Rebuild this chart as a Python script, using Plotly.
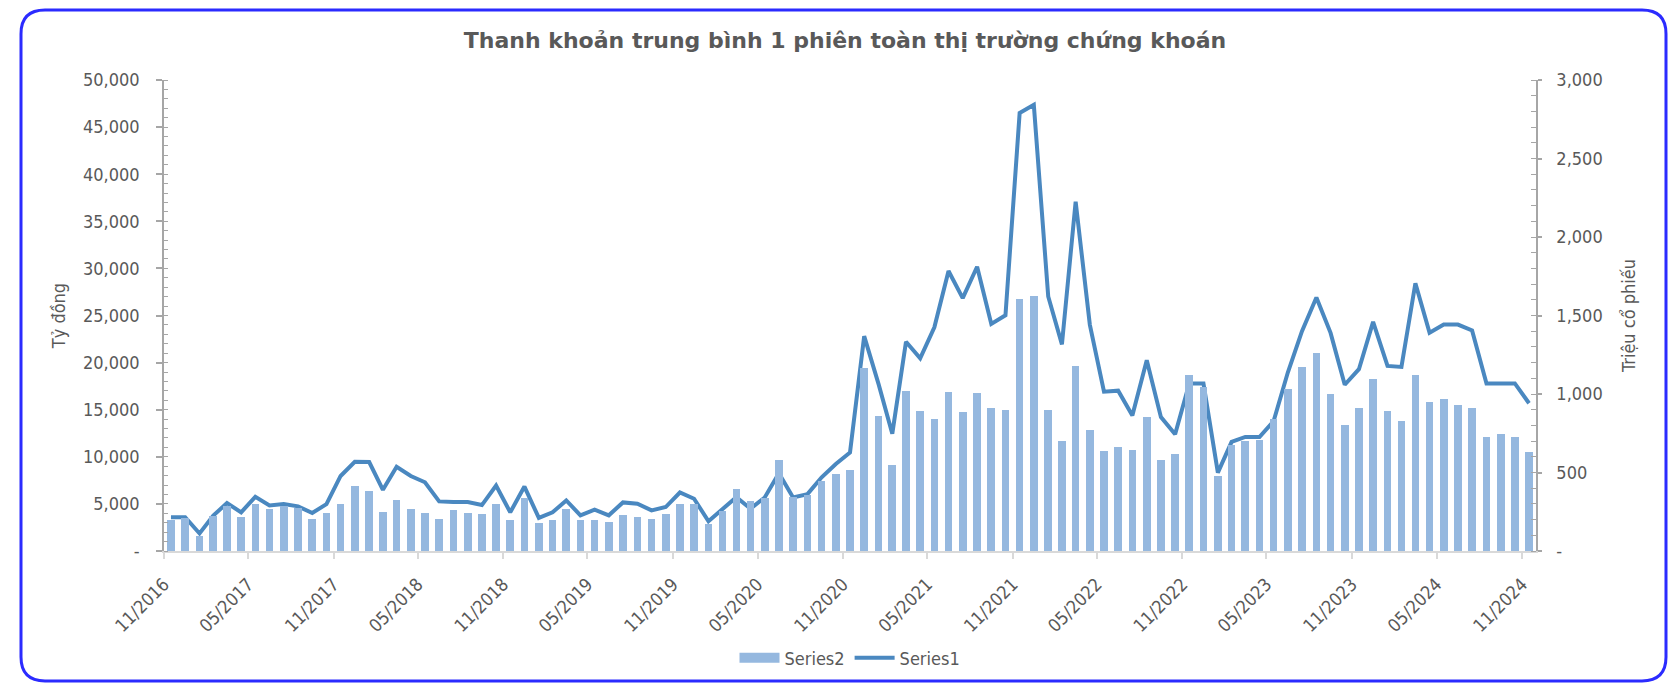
import pandas as pd
import plotly.graph_objects as go

# monthly data 11/2016 .. 11/2024
months = pd.date_range("2016-11-01", periods=97, freq="MS")

# Series2 - bars, right axis (Triệu cổ phiếu)
series2 = [
    196, 211, 95, 225, 284, 215, 301, 267, 284, 274,
    204, 240, 301, 411, 383, 246, 328, 269, 240, 202,
    261, 242, 238, 301, 196, 335, 179, 196, 269, 198,
    196, 183, 232, 215, 202, 238, 301, 301, 171, 253,
    396, 316, 337, 579, 347, 358, 448, 488, 516, 1168,
    857, 547, 1017, 891, 838, 1011, 884, 1008, 909, 895,
    1602, 1627, 901, 699, 1181, 771, 640, 663, 642, 851,
    581, 617, 1124, 1042, 480, 678, 699, 709, 838, 1032,
    1173, 1263, 998, 804, 909, 1095, 891, 825, 1122, 949,
    968, 931, 912, 724, 745, 726, 632,
]

# Series1 - line, left axis (Tỷ đồng)
series1 = [
    3579, 3579, 1860, 3754, 5088, 4105, 5754, 4842, 4982, 4737,
    4035, 4982, 7965, 9474, 9439, 6491, 8947, 7965, 7298, 5263,
    5193, 5193, 4877, 6947, 4105, 6842, 3509, 4105, 5368, 3789,
    4386, 3789, 5158, 5018, 4316, 4667, 6211, 5544, 3158, 4386,
    5719, 4491, 5684, 8246, 5684, 6035, 7825, 9228, 10456, 22807,
    17719, 12456, 22211, 20456, 23755, 29720, 26842, 30176, 24105, 25018,
    46491, 47369, 27018, 21930, 37088, 24035, 16912, 17018, 14386, 20246,
    14211, 12386, 17790, 17790, 8316, 11579, 12105, 12105, 13790, 18948,
    23333, 26912, 23158, 17649, 19298, 24316, 19649, 19544, 28421, 23158,
    24035, 24035, 23404, 17790, 17790, 17790, 15684,
]

x_tick_labels = [
    "11/2016", "05/2017", "11/2017", "05/2018", "11/2018", "05/2019",
    "11/2019", "05/2020", "11/2020", "05/2021", "11/2021", "05/2022",
    "11/2022", "05/2023", "11/2023", "05/2024", "11/2024",
]
left_ticks = [0, 5000, 10000, 15000, 20000, 25000, 30000, 35000, 40000, 45000, 50000]
left_tick_labels = ["-", "5,000", "10,000", "15,000", "20,000", "25,000",
                    "30,000", "35,000", "40,000", "45,000", "50,000"]
right_ticks = [0, 500, 1000, 1500, 2000, 2500, 3000]
right_tick_labels = ["-", "500", "1,000", "1,500", "2,000", "2,500", "3,000"]

# page has an 8px body margin, so figure is 8px smaller than the window
W, H = 1671, 681
ML, MR, MT, MB = 156, 143, 72, 134
FONT = "Tahoma, 'DejaVu Sans Condensed', 'DejaVu Sans', sans-serif"
TITLE_FONT = "Tahoma, 'DejaVu Sans', sans-serif"
TXT = "#595959"
AXIS = "#A6A6A6"
BAR = "#95B8DF"
LINE = "#4A88C0"
FS = 18

x_tickvals = [pd.Timestamp(f"{t[3:]}-{t[:2]}-01") for t in x_tick_labels]


def px2paper(px, py):
    pw, ph = W - ML - MR, H - MT - MB
    return (px - ML) / pw, (H - MB - py) / ph


def rounded_frame(x0, y0, x1, y1, r):
    # rounded rectangle in pixel coords -> svg path in paper coords
    pts = [
        ("M", [(x0 + r, y0)]),
        ("L", [(x1 - r, y0)]), ("Q", [(x1, y0), (x1, y0 + r)]),
        ("L", [(x1, y1 - r)]), ("Q", [(x1, y1), (x1 - r, y1)]),
        ("L", [(x0 + r, y1)]), ("Q", [(x0, y1), (x0, y1 - r)]),
        ("L", [(x0, y0 + r)]), ("Q", [(x0, y0), (x0 + r, y0)]),
    ]
    out = []
    for cmd, ps in pts:
        out.append(cmd + " ".join("%.5f,%.5f" % px2paper(*p) for p in ps))
    return " ".join(out) + " Z"


fig = go.Figure()

# bars
fig.add_trace(go.Bar(
    x=months, y=series2, name="Series2", yaxis="y2",
    xperiod="M1", xperiodalignment="middle",
    width=0.54 * 30.44 * 86400000,
    marker=dict(color=BAR, line=dict(width=0)),
    legendgroup="s2", showlegend=False,
))
# wide legend swatch for the bars (Excel style)
fig.add_trace(go.Scatter(
    x=[None], y=[None], name="Series2", mode="lines", yaxis="y2",
    line=dict(color=BAR, width=10), legendgroup="s2",
))
# line
fig.add_trace(go.Scatter(
    x=months, y=series1, name="Series1", mode="lines",
    xperiod="M1", xperiodalignment="middle",
    line=dict(color=LINE, width=4),
))

fig.update_layout(
    width=W, height=H,
    margin=dict(l=ML, r=MR, t=MT, b=MB),
    paper_bgcolor="white", plot_bgcolor="white",
    font=dict(family=FONT, size=FS, color=TXT),
    title=dict(
        text="<b>Thanh khoản trung bình 1 phiên toàn thị trường chứng khoán</b>",
        x=837 / W, xanchor="center", y=1 - 32 / H, yanchor="middle",
        font=dict(family=TITLE_FONT, size=22, color=TXT),
    ),
    bargap=0,
    showlegend=True,
    legend=dict(
        orientation="h", x=0.5, xanchor="center",
        y=px2paper(0, 655)[1], yanchor="middle",
        font=dict(size=FS, color=TXT),
        itemwidth=40, traceorder="normal",
    ),
    xaxis=dict(
        type="date", automargin=False,
        range=[pd.Timestamp("2016-11-01"), pd.Timestamp("2024-12-01")],
        tickvals=x_tickvals, ticktext=x_tick_labels, tickangle=-45,
        showgrid=False, zeroline=False,
        showline=True, linecolor="#D9D9D9", linewidth=1.5,
        ticks="outside", ticklen=6, tickcolor="#D9D9D9", tickwidth=1.5,
        ticklabelstandoff=8,
        tickfont=dict(size=FS, color=TXT),
    ),
    yaxis=dict(
        range=[0, 50000], automargin=False,
        tickvals=left_ticks, ticktext=left_tick_labels,
        showgrid=False, zeroline=False,
        showline=True, linecolor=AXIS, linewidth=1.5,
        ticks="outside", ticklen=6, tickcolor=AXIS, tickwidth=1.5,
        ticklabelstandoff=13,
        minor=dict(ticks="inside", ticklen=4, dtick=1000, tickcolor=AXIS, tickwidth=1.2),
        title=dict(text="Tỷ đồng", standoff=13, font=dict(size=FS, color=TXT)),
        tickfont=dict(size=FS, color=TXT),
    ),
    yaxis2=dict(
        range=[0, 3000], overlaying="y", side="right", automargin=False,
        tickvals=right_ticks, ticktext=right_tick_labels,
        showgrid=False, zeroline=False,
        showline=True, linecolor=AXIS, linewidth=1.5,
        ticks="outside", ticklen=4, tickcolor=AXIS, tickwidth=1.5,
        ticklabelstandoff=11,
        minor=dict(ticks="inside", ticklen=5, dtick=100, tickcolor=AXIS, tickwidth=1.2),
        title=dict(text="Triệu cổ phiếu", standoff=21, font=dict(size=FS, color=TXT)),
        tickfont=dict(size=FS, color=TXT),
    ),
    shapes=[dict(
        type="path", xref="paper", yref="paper",
        path=rounded_frame(13, 1.5, 1658, 678, 24),
        line=dict(color="#2B2BFF", width=3), fillcolor="rgba(0,0,0,0)",
        layer="above",
    )],
)

fig.write_html("out.html")
